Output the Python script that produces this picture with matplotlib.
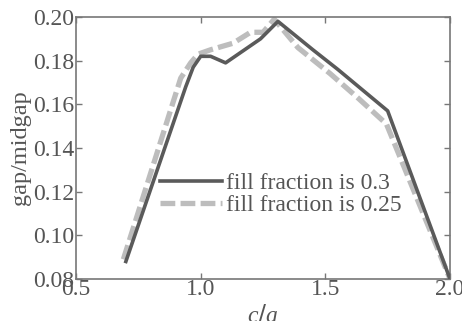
import matplotlib
matplotlib.use("Agg")
import matplotlib.pyplot as plt

# fill fraction 0.3 (solid)
ca_03 = [0.70, 0.94, 0.97, 1.00, 1.04, 1.10, 1.24, 1.31, 1.45, 1.55, 1.75, 2.00]
gap_03 = [0.088, 0.168, 0.177, 0.182, 0.182, 0.179, 0.190, 0.198, 0.185, 0.176, 0.157, 0.080]

# fill fraction 0.25 (dashed)
ca_025 = [0.69, 0.92, 0.96, 0.99, 1.04, 1.13, 1.20, 1.25, 1.295, 1.39, 1.52, 1.63, 1.745, 2.00]
gap_025 = [0.089, 0.172, 0.179, 0.183, 0.185, 0.188, 0.193, 0.193, 0.199, 0.186, 0.174, 0.163, 0.151, 0.080]

xticks = [0.5, 1.0, 1.5, 2.0]
yticks = [0.08, 0.10, 0.12, 0.14, 0.16, 0.18, 0.20]

plt.rcParams['font.family'] = ['Liberation Serif', 'DejaVu Serif']
plt.rcParams['mathtext.fontset'] = 'custom'
plt.rcParams['mathtext.it'] = 'Liberation Serif:italic'

fig = plt.figure(figsize=(4.62, 3.21), dpi=100)
ax = fig.add_axes([0.1645, 0.131, 0.8095, 0.816])

ax.plot(ca_025, gap_025, color='#bdbdbd', lw=3.8, ls=(0, (2.8, 1.0)),
        label='fill fraction is 0.25', zorder=2)
ax.plot(ca_03, gap_03, color='#5a5a5a', lw=2.6, label='fill fraction is 0.3', zorder=3)

ax.set_xlim(0.5, 2.0)
ax.set_ylim(0.08, 0.20)
ax.set_xticks(xticks)
ax.set_xticklabels(['%.1f' % t for t in xticks])
ax.set_yticks(yticks)
ax.set_yticklabels(['%.2f' % t for t in yticks])
ax.tick_params(direction='in', top=True, right=True, length=4, width=1,
               color='#777777', labelsize=17, labelcolor='#555555', pad=1)
ax.tick_params(axis='x', pad=0)
for s in ax.spines.values():
    s.set_color('#777777')
    s.set_linewidth(1.2)

ax.set_ylabel('gap/midgap', fontsize=17.5, color='#555555', labelpad=2)
ax.set_xlabel('$c/a$', fontsize=17, color='#555555', labelpad=2)

handles, labels = ax.get_legend_handles_labels()
ax.legend(handles[::-1], labels[::-1], loc='upper left', bbox_to_anchor=(0.2246, 0.405),
          frameon=False, fontsize=17, handlelength=2.63, handletextpad=0.17,
          labelspacing=0.0, borderpad=0, borderaxespad=0, labelcolor='#555555')

fig.savefig('out.png', dpi=100)
